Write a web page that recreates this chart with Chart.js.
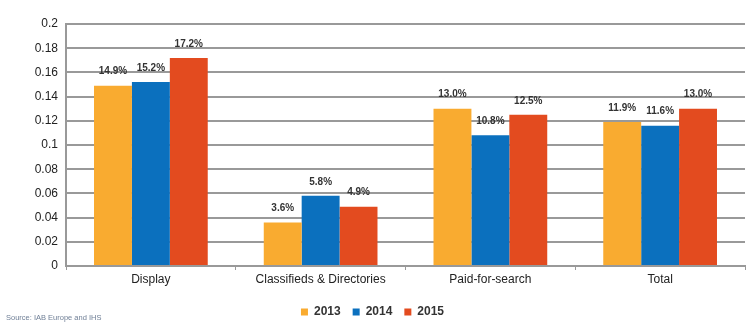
<!DOCTYPE html>
<html>
<head>
<meta charset="utf-8">
<script src="https://cdn.jsdelivr.net/npm/chart.js"></script>
<style>
  html, body { margin: 0; padding: 0; background: #fff; }
  #wrap { position: relative; width: 750px; height: 328px; }
  #source {
    position: absolute; left: 6px; top: 313px;
    font: 7.5px "Liberation Sans", Arial, sans-serif; color: #6f7f96;
  }
</style>
</head>
<body>
<div id="wrap">
  <canvas id="chart" width="750" height="328"></canvas>
  <div id="source">Source: IAB Europe and IHS</div>
</div>
<script>
// chart values
const categories = ['Display', 'Classifieds & Directories', 'Paid-for-search', 'Total'];
const years = ['2013', '2014', '2015'];
const values2013 = [0.149, 0.036, 0.130, 0.119];
const values2014 = [0.152, 0.058, 0.108, 0.116];
const values2015 = [0.172, 0.049, 0.125, 0.130];
const yTicks = [0, 0.02, 0.04, 0.06, 0.08, 0.1, 0.12, 0.14, 0.16, 0.18, 0.2];

const colors = ['#F9AB30', '#0B70BE', '#E34B1F'];

// percent labels above each bar
const barLabels = {
    id: 'barLabels',
    afterDatasetsDraw(chart) {
        const ctx = chart.ctx;
        ctx.save();
        ctx.font = 'bold 10px "Liberation Sans", Arial, sans-serif';
        ctx.fillStyle = '#333';
        ctx.textAlign = 'center';
        ctx.textBaseline = 'bottom';
        chart.data.datasets.forEach((ds, i) => {
            chart.getDatasetMeta(i).data.forEach((bar, j) => {
                const txt = (ds.data[j] * 100).toFixed(1) + '%';
                ctx.fillText(txt, bar.x, bar.y - 9);
            });
        });
        ctx.restore();
    }
};

new Chart(document.getElementById('chart'), {
    type: 'bar',
    data: {
        labels: categories,
        datasets: [
            { label: years[0], data: values2013, backgroundColor: colors[0] },
            { label: years[1], data: values2014, backgroundColor: colors[1] },
            { label: years[2], data: values2015, backgroundColor: colors[2] }
        ]
    },
    options: {
        responsive: false,
        animation: false,
        layout: { padding: { left: 0, right: 5, top: 24, bottom: 0 } },
        datasets: { bar: { categoryPercentage: 0.67, barPercentage: 1.0 } },
        plugins: {
            tooltip: { enabled: false },
            legend: {
                position: 'bottom',
                labels: {
                    boxWidth: 7,
                    boxHeight: 7,
                    padding: 12,
                    color: '#333',
                    font: { family: '"Liberation Sans", Arial, sans-serif', size: 12, weight: 'bold' }
                }
            }
        },
        scales: {
            x: {
                afterFit(scale) { scale.height = 28; },
                grid: { display: true, drawOnChartArea: false, drawTicks: true, tickLength: 4, color: '#999' },
                border: { display: true, color: '#999', width: 2 },
                ticks: {
                    color: '#222',
                    padding: 2,
                    font: { family: '"Liberation Sans", Arial, sans-serif', size: 12 }
                }
            },
            y: {
                min: 0,
                max: 0.2,
                afterFit(scale) { scale.width = 66; },
                afterBuildTicks(scale) { scale.ticks = yTicks.map(v => ({ value: v })); },
                grid: { color: '#999', lineWidth: 2, drawTicks: false },
                border: { display: true, color: '#999', width: 2 },
                ticks: {
                    color: '#222',
                    padding: 8,
                    font: { family: '"Liberation Sans", Arial, sans-serif', size: 12 },
                    callback: v => String(Math.round(v * 100) / 100)
                }
            }
        }
    },
    plugins: [barLabels]
});
</script>
</body>
</html>
